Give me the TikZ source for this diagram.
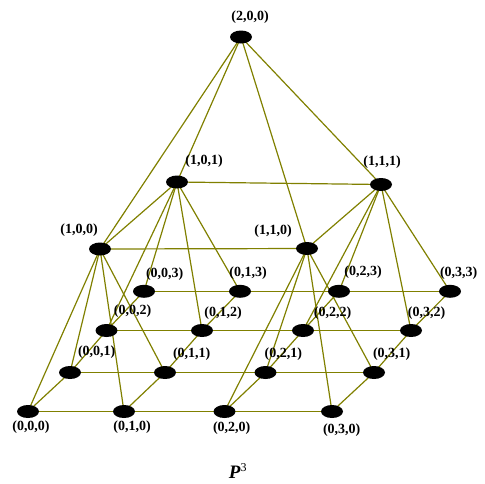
\documentclass[tikz,border=0pt]{standalone}
\usepackage{fontspec}
\setmainfont{Liberation Serif}
\usetikzlibrary{shapes.geometric,backgrounds}
\tikzset{
  vtx/.style={ellipse, fill=black, minimum width=22pt, minimum height=13pt, inner sep=0pt},
  lbl/.style={inner sep=0pt, font=\fontsize{14}{15}\selectfont\bfseries},
  edge/.style={draw={rgb,255:red,128;green,128;blue,0}, line width=1.2pt}
}
\begin{document}
\begin{tikzpicture}[x=1pt,y=-1pt]
\useasboundingbox (0,0) rectangle (485,483);
% vertices
\node[vtx] (n200) at (241,37) {};
\node[vtx] (n101) at (177,182) {};
\node[vtx] (n111) at (381,184.5) {};
\node[vtx] (n100) at (100,249) {};
\node[vtx] (n110) at (307,248.5) {};
\node[vtx] (n000) at (28,411.5) {};
\node[vtx] (n010) at (124,411.5) {};
\node[vtx] (n020) at (224.5,411.5) {};
\node[vtx] (n030) at (332,411.5) {};
\node[vtx] (n001) at (70,372.5) {};
\node[vtx] (n011) at (165,372.5) {};
\node[vtx] (n021) at (265.5,372.5) {};
\node[vtx] (n031) at (374,372.5) {};
\node[vtx] (n002) at (106.5,330.5) {};
\node[vtx] (n012) at (202,330.5) {};
\node[vtx] (n022) at (303,330.5) {};
\node[vtx] (n032) at (411,330.5) {};
\node[vtx] (n003) at (144,291.3) {};
\node[vtx] (n013) at (240,291.3) {};
\node[vtx] (n023) at (339,291.3) {};
\node[vtx] (n033) at (450,291.3) {};
% labels
\node[lbl] (t200) at (250,17.5) {(2,0,0)};
\node[lbl] (t101) at (204,161) {(1,0,1)};
\node[lbl] (t111) at (382,162.5) {(1,1,1)};
\node[lbl] (t100) at (79,230) {(1,0,0)};
\node[lbl] (t110) at (273,231) {(1,1,0)};
\node[lbl] (t003) at (164.7,274) {(0,0,3)};
\node[lbl] (t013) at (248,273) {(0,1,3)};
\node[lbl] (t023) at (363,272.5) {(0,2,3)};
\node[lbl] (t033) at (458.7,273) {(0,3,3)};
\node[lbl] (t002) at (132.5,311) {(0,0,2)};
\node[lbl] (t012) at (223,313) {(0,1,2)};
\node[lbl] (t022) at (332.5,313) {(0,2,2)};
\node[lbl] (t032) at (426.5,313) {(0,3,2)};
\node[lbl] (t001) at (96.7,352.5) {(0,0,1)};
\node[lbl] (t011) at (191.7,354) {(0,1,1)};
\node[lbl] (t021) at (283.3,354) {(0,2,1)};
\node[lbl] (t031) at (391.7,354) {(0,3,1)};
\node[lbl] (t000) at (31,427) {(0,0,0)};
\node[lbl] (t010) at (132,427) {(0,1,0)};
\node[lbl] (t020) at (231.7,428) {(0,2,0)};
\node[lbl] (t030) at (341.7,430) {(0,3,0)};
\node[inner sep=0pt, font=\fontsize{19}{20}\selectfont] (title) at (238,471) {\textbf{\textit{P}}\textsuperscript{\fontsize{12}{12}\selectfont 3}};
% edges
\begin{pgfonlayer}{background}
\foreach \a/\b in {200/100,200/101,200/110,200/111,
  100/110,101/111,100/101,110/111,
  100/000,100/001,100/010,100/011,
  101/002,101/003,101/012,101/013,
  110/020,110/021,110/030,110/031,
  111/022,111/023,111/032,111/033,
  000/010,010/020,020/030,
  001/011,011/021,021/031,
  002/012,012/022,022/032,
  003/013,013/023,023/033,
  000/001,001/002,002/003,
  010/011,011/012,012/013,
  020/021,021/022,022/023,
  030/031,031/032,032/033}
  \draw[edge] (n\a.center) -- (n\b.center);
\end{pgfonlayer}
\end{tikzpicture}
\end{document}
